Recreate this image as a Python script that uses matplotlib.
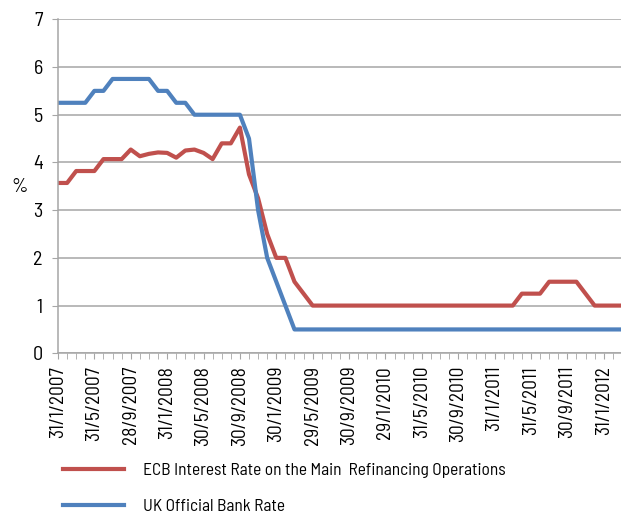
"""ECB refinancing rate vs UK Bank Rate, monthly, Jan 2007 - Mar 2012."""
import matplotlib
matplotlib.use("Agg")
import matplotlib.pyplot as plt
from matplotlib import font_manager
import numpy as np

# month-end values, Jan 2007 .. Mar 2012 (63 months, last one cut by the frame)
ecb_rate = [
    3.57, 3.57, 3.82, 3.82, 3.82, 4.07, 4.07, 4.07, 4.27, 4.13, 4.18, 4.21,  # 2007
    4.20, 4.10, 4.25, 4.27, 4.20, 4.07, 4.40, 4.40, 4.73, 3.75, 3.25, 2.50,  # 2008
    2.00, 2.00, 1.50, 1.25, 1.00, 1.00, 1.00, 1.00, 1.00, 1.00, 1.00, 1.00,  # 2009
    1.00, 1.00, 1.00, 1.00, 1.00, 1.00, 1.00, 1.00, 1.00, 1.00, 1.00, 1.00,  # 2010
    1.00, 1.00, 1.00, 1.25, 1.25, 1.25, 1.50, 1.50, 1.50, 1.50, 1.25, 1.00,  # 2011
    1.00, 1.00, 1.00,                                                        # 2012
]
uk_rate = [
    5.25, 5.25, 5.25, 5.25, 5.50, 5.50, 5.75, 5.75, 5.75, 5.75, 5.75, 5.50,
    5.50, 5.25, 5.25, 5.00, 5.00, 5.00, 5.00, 5.00, 5.00, 4.50, 3.00, 2.00,
    1.50, 1.00, 0.50, 0.50, 0.50, 0.50, 0.50, 0.50, 0.50, 0.50, 0.50, 0.50,
    0.50, 0.50, 0.50, 0.50, 0.50, 0.50, 0.50, 0.50, 0.50, 0.50, 0.50, 0.50,
    0.50, 0.50, 0.50, 0.50, 0.50, 0.50, 0.50, 0.50, 0.50, 0.50, 0.50, 0.50,
    0.50, 0.50, 0.50,
]
date_labels = [
    "31/1/2007", "31/5/2007", "28/9/2007", "31/1/2008", "30/5/2008", "30/9/2008",
    "30/1/2009", "29/5/2009", "30/9/2009", "29/1/2010", "31/5/2010", "30/9/2010",
    "31/1/2011", "31/5/2011", "30/9/2011", "31/1/2012",
]
series_names = [
    "ECB Interest Rate on the Main  Refinancing Operations",
    "UK Official Bank Rate",
]

RED = "#C0504D"
BLUE = "#4F81BD"
GRID = "#A6A6A6"


def narrow_font():
    """Find an installed condensed sans face; fall back to Liberation Sans."""
    best = None
    for f in font_manager.fontManager.ttflist:
        if f.style != "normal" or f.weight not in (400, "normal", "regular"):
            continue
        tag = (f.name + " " + f.fname).lower()
        narrow = any(k in tag for k in ("narrow", "condensed", "semicond"))
        if not narrow or "extra" in tag or "ultra" in tag:
            continue
        rank = 0 if "semicond" in tag or "semi" in tag else 1
        if best is None or rank < best[0]:
            best = (rank, f.fname)
    if best:
        return font_manager.FontProperties(fname=best[1])
    return font_manager.FontProperties(family="Liberation Sans")


fp_y = narrow_font()
fp_y.set_size(14.5)
fp_x = fp_y.copy()
fp_x.set_size(14)
fp_leg = fp_y.copy()
fp_leg.set_size(12.5)

months = np.arange(len(ecb_rate))

fig = plt.figure(figsize=(6.21, 5.15), dpi=100)
ax = fig.add_axes([58 / 621, 1 - 353.3 / 515, 1 - 58 / 621, (353.3 - 19.3) / 515])

ax.plot(months, ecb_rate, color=RED, lw=3, label=series_names[0])
ax.plot(months, uk_rate, color=BLUE, lw=3, label=series_names[1])

ax.set_ylim(0, 7)
ax.set_xlim(0, 61.9)
ax.set_yticks(range(0, 8))
ax.set_yticklabels([str(v) for v in range(0, 8)], fontproperties=fp_y)
ax.yaxis.grid(True, color=GRID, lw=1.1)
ax.set_axisbelow(True)

ax.set_xticks(months[:62], minor=True)
ax.set_xticks(months[:62:4])
ax.set_xticklabels(date_labels, rotation=90, fontproperties=fp_x)

for side in ("top", "right"):
    ax.spines[side].set_visible(False)
for side in ("left", "bottom"):
    ax.spines[side].set_color(GRID)
    ax.spines[side].set_linewidth(1.1)

ax.tick_params(axis="y", length=4, color=GRID, pad=7)
ax.tick_params(axis="x", which="both", length=4, color=GRID, direction="out", pad=5)

fig.text(20 / 621, 1 - 187 / 515, "%", fontproperties=fp_y, ha="center", va="center")

fig.legend(
    loc="upper left",
    bbox_to_anchor=(63 / 621, 1 - 463 / 515),
    frameon=False,
    prop=fp_leg,
    handlelength=3.5,
    handletextpad=1.1,
    labelspacing=1.2,
    borderpad=0,
    borderaxespad=0,
)

fig.savefig("out.png", dpi=100)
